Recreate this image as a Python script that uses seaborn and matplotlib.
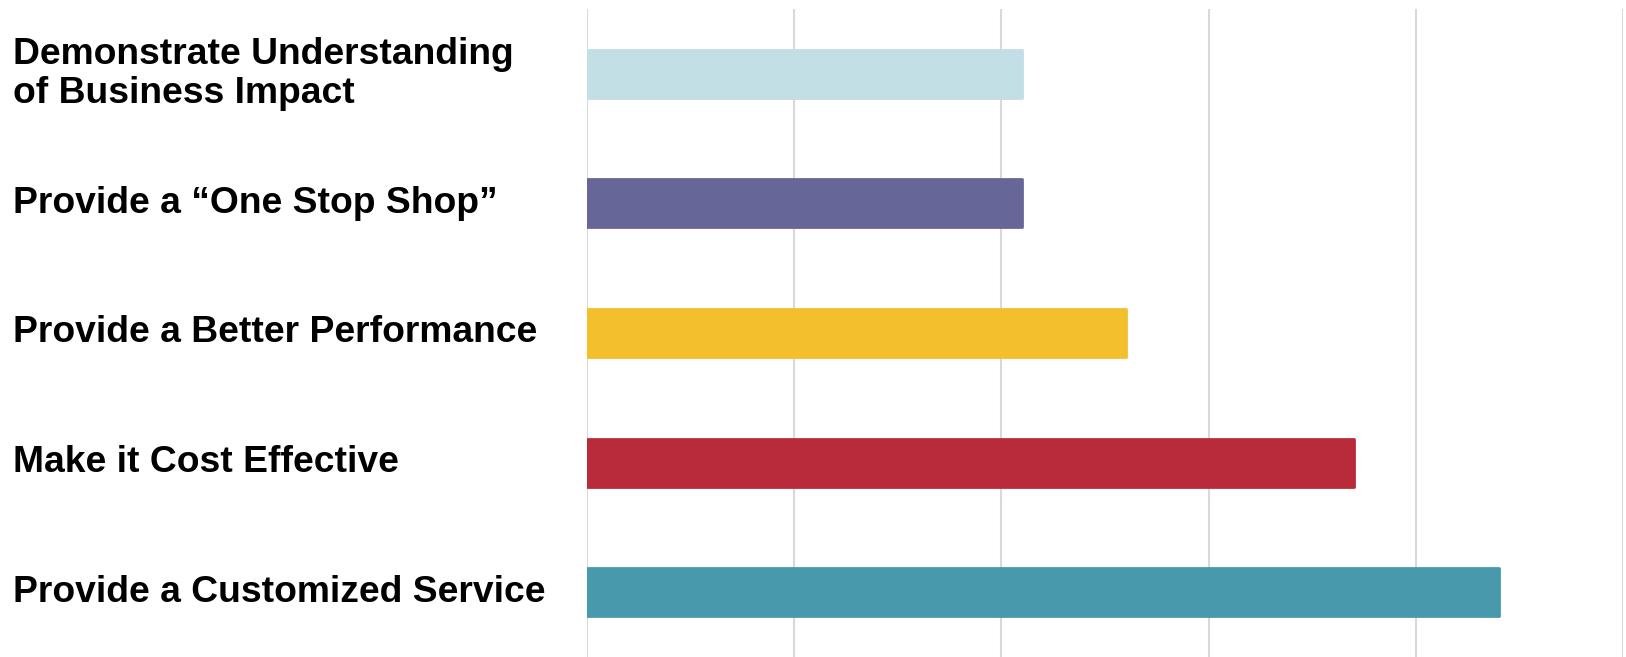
import matplotlib
matplotlib.use('Agg')
import matplotlib.pyplot as plt
import matplotlib.transforms as mtransforms
import seaborn as sns
import pandas as pd

# Chart data
categories = ['Demonstrate Understanding\nof Business Impact',
              'Provide a \u201cOne Stop Shop\u201d',
              'Provide a Better Performance',
              'Make it Cost Effective',
              'Provide a Customized Service']
values = [42, 42, 52, 74, 88]
bar_colors = ['#C1DFE5', '#676699', '#F3BF2C', '#B92B3A', '#4799AB']
x_ticks = [0, 20, 40, 60, 80, 100]

sns.set_theme(style='white')
plt.rcParams['font.family'] = ['Liberation Sans', 'DejaVu Sans']

df = pd.DataFrame({'label': categories, 'value': values})

fig = plt.figure(figsize=(16.26, 6.57), dpi=100)
ax = fig.add_axes([587 / 1626, 0, (1623 - 587) / 1626, (657 - 9) / 657])

sns.barplot(data=df, x='value', y='label', hue='label', palette=bar_colors,
            width=0.37, legend=False, ax=ax, saturation=1, zorder=2)

# slightly rounded bar corners
for bar in ax.patches:
    bar.set_edgecolor(bar.get_facecolor())
    bar.set_linewidth(2)
    bar.set_joinstyle('round')

ax.set_xlim(0, 100)
ax.set_ylim(4.5, -0.5)
ax.set_xticks(x_ticks)
ax.set_xticklabels([])
ax.set_yticks(range(len(categories)))
ax.set_yticklabels([])
ax.tick_params(left=False, bottom=False)
ax.grid(True, axis='x', color='#d9d9d9', linewidth=1.5, zorder=0)
ax.set_axisbelow(True)
for s in ax.spines.values():
    s.set_visible(False)
ax.set_xlabel('')
ax.set_ylabel('')

# Left-aligned category labels at the figure edge
trans = mtransforms.blended_transform_factory(fig.transFigure, ax.transData)
for i, label in enumerate(categories):
    ax.text(13 / 1626, i, label, transform=trans, ha='left', va='center',
            fontsize=26.8, fontweight='bold', color='black', linespacing=1.16)

fig.savefig('out.png', dpi=100)
